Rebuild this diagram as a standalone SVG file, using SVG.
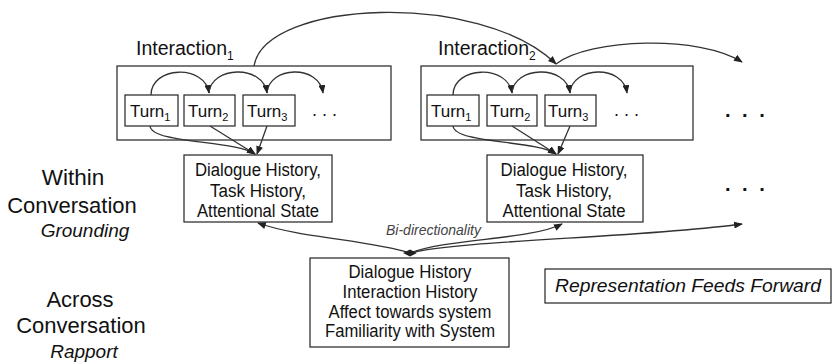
<svg xmlns="http://www.w3.org/2000/svg" width="833" height="364" viewBox="0 0 833 364">
<style>
.bx{fill:#fff;stroke:#222;stroke-width:1.2}
.t{font-family:"Liberation Sans",Arial,sans-serif;fill:#111}
.c{fill:none;stroke:#333;stroke-width:1.3}
.ca{fill:none;stroke:#333;stroke-width:1.3;marker-end:url(#ah)}
</style>
<defs>
<marker id="ah" viewBox="0 0 10 8" refX="9" refY="4" markerWidth="9" markerHeight="7" markerUnits="userSpaceOnUse" orient="auto">
<path d="M0,0 L10,4 L0,8 z" fill="#222"/>
</marker>
</defs>
<rect width="833" height="364" fill="#fff"/>

<g id="labels-left" class="t" text-anchor="middle">
<text x="73" y="185" font-size="22.5">Within</text>
<text x="72" y="213" font-size="22">Conversation</text>
<text x="85" y="237" font-size="19" font-style="italic">Grounding</text>
<text x="80" y="307" font-size="22">Across</text>
<text x="81" y="333" font-size="22">Conversation</text>
<text x="84" y="358" font-size="19" font-style="italic">Rapport</text>
</g>

<g id="interaction1">
<rect class="bx" x="117" y="66" width="274" height="74"/>
<text class="t" x="136" y="55" font-size="19.5">Interaction<tspan font-size="12" dy="5">1</tspan></text>
<text class="t" x="312" y="116" font-size="18">. . .</text>
</g>
<g id="i1-turn1"><rect class="bx" x="125" y="95" width="53" height="31"/><text class="t" x="130" y="117" font-size="17">Turn<tspan font-size="11" dy="4">1</tspan></text></g>
<g id="i1-turn2"><rect class="bx" x="184" y="95" width="51" height="31"/><text class="t" x="188" y="117" font-size="17">Turn<tspan font-size="11" dy="4">2</tspan></text></g>
<g id="i1-turn3"><rect class="bx" x="243" y="95" width="52" height="31"/><text class="t" x="247" y="117" font-size="17">Turn<tspan font-size="11" dy="4">3</tspan></text></g>

<g id="interaction2">
<rect class="bx" x="421" y="66" width="272" height="74"/>
<text class="t" x="438" y="55" font-size="19.5">Interaction<tspan font-size="12" dy="5">2</tspan></text>
<text class="t" x="614" y="116" font-size="18">. . .</text>
</g>
<g id="i2-turn1"><rect class="bx" x="427" y="95" width="52" height="31"/><text class="t" x="431" y="117" font-size="17">Turn<tspan font-size="11" dy="4">1</tspan></text></g>
<g id="i2-turn2"><rect class="bx" x="487" y="95" width="50" height="31"/><text class="t" x="490" y="117" font-size="17">Turn<tspan font-size="11" dy="4">2</tspan></text></g>
<g id="i2-turn3"><rect class="bx" x="545" y="95" width="51" height="31"/><text class="t" x="548" y="117" font-size="17">Turn<tspan font-size="11" dy="4">3</tspan></text></g>

<g id="more-dots" class="t" font-size="20" font-weight="bold" letter-spacing="3">
<text x="725" y="117">. . .</text>
<text x="725" y="191">. . .</text>
</g>

<g id="dh1">
<rect class="bx" x="184" y="155" width="148" height="67"/>
<g class="t" font-size="18" text-anchor="middle">
<text x="258" y="176" textLength="126" lengthAdjust="spacingAndGlyphs">Dialogue History,</text>
<text x="258" y="196.5" textLength="96" lengthAdjust="spacingAndGlyphs">Task History,</text>
<text x="258" y="217" textLength="122" lengthAdjust="spacingAndGlyphs">Attentional State</text>
</g>
</g>

<g id="dh2">
<rect class="bx" x="487" y="155" width="156" height="67"/>
<g class="t" font-size="18" text-anchor="middle">
<text x="564" y="176" textLength="127" lengthAdjust="spacingAndGlyphs">Dialogue History,</text>
<text x="564" y="196.5" textLength="96" lengthAdjust="spacingAndGlyphs">Task History,</text>
<text x="564" y="217" textLength="123" lengthAdjust="spacingAndGlyphs">Attentional State</text>
</g>
</g>

<g id="across">
<rect class="bx" x="310" y="258" width="199" height="89"/>
<g class="t" font-size="17.5" text-anchor="middle">
<text x="410" y="278" textLength="123" lengthAdjust="spacingAndGlyphs">Dialogue History</text>
<text x="410" y="298" textLength="135" lengthAdjust="spacingAndGlyphs">Interaction History</text>
<text x="410" y="317.5" textLength="163" lengthAdjust="spacingAndGlyphs">Affect towards system</text>
<text x="410" y="337" textLength="170" lengthAdjust="spacingAndGlyphs">Familiarity with System</text>
</g>
</g>

<g id="feeds-forward">
<rect class="bx" x="545" y="269" width="286" height="34"/>
<text class="t" x="688" y="292" font-size="18" font-style="italic" text-anchor="middle" textLength="266" lengthAdjust="spacingAndGlyphs">Representation Feeds Forward</text>
</g>

<g id="connectors">
<path class="ca" d="M151,95 C151,66 205,64 209,93"/>
<path class="ca" d="M209,93 C211,66 263,64 267,93"/>
<path class="ca" d="M267,93 C269,66 319,64 323,93"/>
<path class="ca" d="M453,95 C453,66 508,64 512,93"/>
<path class="ca" d="M512,93 C514,66 566,64 570,93"/>
<path class="ca" d="M570,93 C572,66 623,64 627,93"/>
<path class="ca" d="M150,126 C152,144 235,140 255,154"/>
<path class="ca" d="M210,126 L255,154"/>
<path class="ca" d="M267,126 L257,154"/>
<path class="ca" d="M453,126 C455,144 537,140 556,154"/>
<path class="ca" d="M512,126 L556,154"/>
<path class="ca" d="M570,126 L558,154"/>
<path class="ca" d="M254,66 C265,0 480,-10 556,64"/>
<path class="ca" d="M556,64 C590,38 700,35 742,62"/>
<path class="ca" d="M410,253 C370,240 300,238 258,223"/>
<path class="ca" d="M410,253 C450,238 530,240 562,224"/>
<path class="ca" d="M410,253 C460,240 640,238 742,224"/>
<path d="M403,253 L410,249.5 L417,253 L410,256.5 z" fill="#222"/>
<text x="386" y="235" font-family="'Liberation Sans',Arial,sans-serif" font-size="14" font-style="italic" fill="#444">Bi-directionality</text>
</g>
</svg>
